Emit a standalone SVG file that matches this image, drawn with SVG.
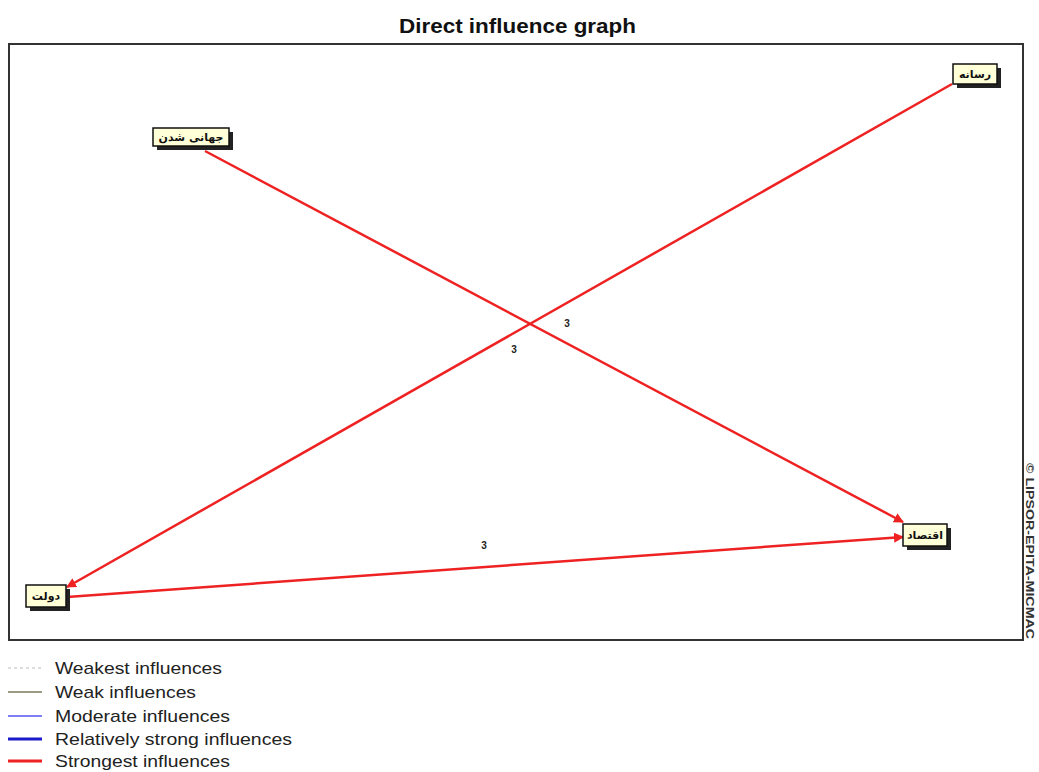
<svg xmlns="http://www.w3.org/2000/svg" width="1039" height="772" viewBox="0 0 1039 772">
<style>
.title{font-family:"Liberation Sans Narrow","Liberation Sans",Arial,sans-serif;font-weight:bold;font-size:20px;fill:#111}
.box{fill:#ffffd8;stroke:#111;stroke-width:1.5}
.shadow{fill:#222}
.lbl{font-family:"DejaVu Sans","Noto Sans",sans-serif;font-weight:bold;font-size:11px;fill:#111}
.edge{stroke:#ee2222;stroke-width:2.5;fill:none}
.num{font-family:"Liberation Sans",Arial,sans-serif;font-weight:bold;font-size:10px;fill:#222}
.leg{font-family:"Liberation Sans",Arial,sans-serif;font-size:17px;fill:#222}
.copy{font-family:"Liberation Sans",Arial,sans-serif;font-weight:bold;font-size:11px;fill:#333}
</style>
<defs>
<marker id="ah" viewBox="0 0 10 10" refX="9" refY="5" markerWidth="4" markerHeight="4" orient="auto" markerUnits="strokeWidth">
<path d="M0,0 L10,5 L0,10 z" fill="#ee2222"/>
</marker>
</defs>
<rect width="1039" height="772" fill="#fff"/>
<text class="title" x="399" y="33" textLength="237" lengthAdjust="spacingAndGlyphs">Direct influence graph</text>
<rect x="9" y="44" width="1014" height="596" fill="none" stroke="#333" stroke-width="2"/>
<text class="copy" transform="translate(1026,463) rotate(90)" textLength="176" lengthAdjust="spacingAndGlyphs">© LIPSOR-EPITA-MICMAC</text>

<g id="connectors">
<line class="edge" x1="205" y1="151" x2="903" y2="522" marker-end="url(#ah)"/>
<line class="edge" x1="952" y1="84" x2="67" y2="587" marker-end="url(#ah)"/>
<line class="edge" x1="67" y1="597" x2="903" y2="537" marker-end="url(#ah)"/>
<text class="num" x="567" y="327" text-anchor="middle">3</text>
<text class="num" x="514" y="353" text-anchor="middle">3</text>
<text class="num" x="484" y="549" text-anchor="middle">3</text>
</g>

<g id="node-globalization">
<rect class="shadow" x="157" y="132" width="76" height="18"/>
<rect class="box" x="153" y="128" width="76" height="18"/>
<text class="lbl" x="191" y="141" text-anchor="middle" direction="rtl">جهانی شدن</text>
</g>
<g id="node-media">
<rect class="shadow" x="957" y="68" width="44" height="20"/>
<rect class="box" x="953" y="64" width="44" height="20"/>
<text class="lbl" x="975" y="78" text-anchor="middle" direction="rtl">رسانه</text>
</g>
<g id="node-economy">
<rect class="shadow" x="907" y="528" width="44" height="22"/>
<rect class="box" x="903" y="524" width="44" height="22"/>
<text class="lbl" x="925" y="539" text-anchor="middle" direction="rtl">اقتصاد</text>
</g>
<g id="node-government">
<rect class="shadow" x="30" y="589" width="40" height="22"/>
<rect class="box" x="26" y="585" width="40" height="22"/>
<text class="lbl" x="46" y="600" text-anchor="middle" direction="rtl">دولت</text>
</g>

<g id="legend">
<line x1="8" y1="668" x2="42" y2="668" stroke="#bbb" stroke-width="1" stroke-dasharray="3,3"/>
<text class="leg" x="55" y="674" textLength="167" lengthAdjust="spacingAndGlyphs">Weakest influences</text>
<line x1="8" y1="692" x2="42" y2="692" stroke="#7a7a5a" stroke-width="1.5"/>
<text class="leg" x="55" y="698" textLength="141" lengthAdjust="spacingAndGlyphs">Weak influences</text>
<line x1="8" y1="716" x2="42" y2="716" stroke="#5555ee" stroke-width="1.5"/>
<text class="leg" x="55" y="722" textLength="175" lengthAdjust="spacingAndGlyphs">Moderate influences</text>
<line x1="8" y1="739" x2="42" y2="739" stroke="#1a1acc" stroke-width="3"/>
<text class="leg" x="55" y="745" textLength="237" lengthAdjust="spacingAndGlyphs">Relatively strong influences</text>
<line x1="8" y1="761" x2="42" y2="761" stroke="#ee2222" stroke-width="3"/>
<text class="leg" x="55" y="767" textLength="175" lengthAdjust="spacingAndGlyphs">Strongest influences</text>
</g>
</svg>
